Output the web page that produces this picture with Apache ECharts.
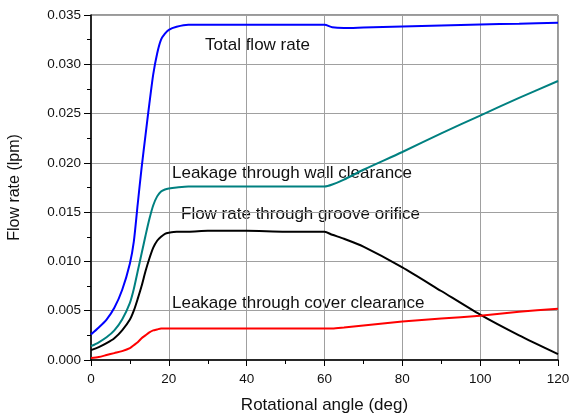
<!DOCTYPE html>
<html><head><meta charset="utf-8">
<script src="https://cdn.jsdelivr.net/npm/echarts@6/dist/echarts.min.js"></script>
<style>html,body{margin:0;padding:0;background:#fff}#c{width:572px;height:416px}</style>
</head><body><div id="c"></div>
<script>
const angles = [0,2,4,6,8,10,11,12,13,14,15,16,17,18,19,20,22,25,30,40,50,60,62,65,70,80,90,100,110,120];
const totalFlow = [0.0026,0.0033,0.0041,0.0053,0.0071,0.0098,0.0120,0.0158,0.0195,0.0228,0.0260,0.0290,0.0311,0.0325,0.0331,0.0335,0.0338,0.0340,0.0340,0.0340,0.0340,0.0340,0.03375,0.03368,0.03373,0.03383,0.03393,0.03403,0.03412,0.03422];
const wallLeak = [0.0014,0.0018,0.0023,0.0030,0.0041,0.0058,0.0072,0.0090,0.0108,0.0126,0.0143,0.0157,0.0166,0.0171,0.0173,0.0174,0.0175,0.0176,0.0176,0.0176,0.0176,0.0176,0.0178,0.0183,0.0193,0.0211,0.0230,0.0248,0.0266,0.0283];
const grooveFlow = [0.0010,0.0013,0.0017,0.0022,0.0030,0.0041,0.0050,0.0062,0.0075,0.0090,0.0103,0.0114,0.0121,0.0125,0.0128,0.0129,0.0130,0.0130,0.0131,0.0131,0.0130,0.0130,0.0127,0.0123,0.0115,0.0094,0.0070,0.0046,0.0025,0.0006];
const coverLeak = [0.0002,0.0003,0.0005,0.0007,0.0009,0.0012,0.0015,0.0018,0.0022,0.0025,0.0028,0.0030,0.0031,0.0032,0.0032,0.0032,0.0032,0.0032,0.0032,0.0032,0.0032,0.0032,0.0032,0.0033,0.0035,0.0039,0.0042,0.0045,0.0049,0.0052];
const seriesNames = ['Total flow rate','Leakage through wall clearance','Flow rate through groove orifice','Leakage through cover clearance'];
const seriesColors = ['#0000ff','#008080','#000000','#ff0000'];
const seriesValues = [totalFlow, wallLeak, grooveFlow, coverLeak];

const chart = echarts.init(document.getElementById('c'));
const font = '"Liberation Sans", Arial, sans-serif';
chart.setOption({
  animation:false,
  grid:{left:91,right:14,top:15,bottom:56,show:true,borderColor:'#333',borderWidth:1,outerBoundsMode:'none',containLabel:false},
  xAxis:{type:'value',min:0,max:120,interval:20,
    name:'Rotational angle (deg)',nameLocation:'middle',nameGap:37,
    nameTextStyle:{fontFamily:font,fontSize:17,color:'#111'},
    axisLine:{lineStyle:{color:'#000',width:1.5}},
    axisTick:{inside:false,length:6,lineStyle:{color:'#000'}},
    minorTick:{show:true,splitNumber:2,length:4,lineStyle:{color:'#000'}},
    axisLabel:{fontFamily:font,fontSize:13.5,color:'#111',margin:12},
    splitLine:{show:true,lineStyle:{color:'#a0a0a0',width:1}}},
  yAxis:{type:'value',min:0,max:0.035,interval:0.005,
    name:'Flow rate (lpm)',nameLocation:'middle',nameGap:68,
    nameTextStyle:{fontFamily:font,fontSize:16,color:'#111'},
    axisLine:{show:true,lineStyle:{color:'#000',width:1.5}},
    axisTick:{show:true,inside:false,length:7,lineStyle:{color:'#000'}},
    minorTick:{show:true,splitNumber:2,length:4,lineStyle:{color:'#000'}},
    axisLabel:{fontFamily:font,fontSize:13.5,color:'#111',margin:10,formatter:v=>v.toFixed(3)},
    splitLine:{show:true,lineStyle:{color:'#a0a0a0',width:1}}},
  series: seriesValues.map((vals,i)=>({
    name:seriesNames[i],type:'line',showSymbol:false,smooth:0.25,
    lineStyle:{color:seriesColors[i],width:2},
    data:angles.map((a,j)=>[a,vals[j]])
  })),
  graphic:[
    {type:'text',left:205,top:37,style:{text:seriesNames[0],font:'17px '+font,fill:'#111'}},
    {type:'text',left:172,top:165,style:{text:seriesNames[1],font:'17px '+font,fill:'#111'}},
    {type:'text',left:181,top:206,style:{text:seriesNames[2],font:'17px '+font,fill:'#111'}},
    {type:'text',left:172,top:295,style:{text:seriesNames[3],font:'17px '+font,fill:'#111'}}
  ]
});
</script></body></html>
